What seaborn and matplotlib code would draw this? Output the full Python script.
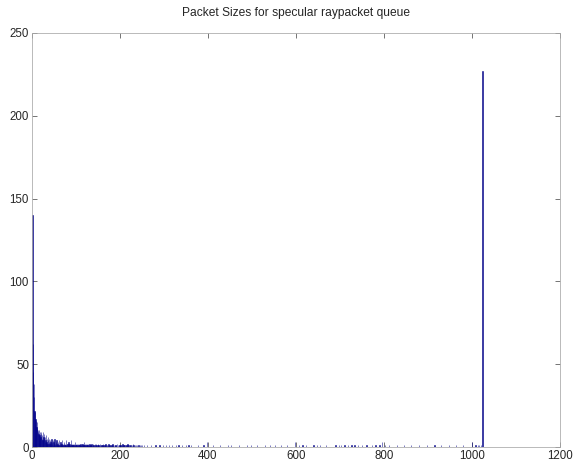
import numpy as np
import pandas as pd
import matplotlib
matplotlib.use("Agg")
import matplotlib.pyplot as plt
import seaborn as sns

# Counts for packet sizes 1..60
head_sizes = list(range(1, 61))
head_counts = [140, 62, 45, 38, 30, 22, 21, 17, 16, 12, 11, 15, 9, 10, 8, 10, 7, 9, 6, 8,
               9, 5, 7, 4, 9, 6, 5, 8, 3, 6, 4, 7, 3, 5, 2, 6, 4, 3, 5, 2,
               4, 3, 2, 5, 3, 2, 4, 1, 3, 2, 5, 2, 1, 3, 2, 4, 1, 2, 3, 1]

# Counts for packet sizes 61..250
mid_sizes = list(range(61, 251))
mid_counts = [4, 1, 2, 1, 3, 1, 2, 4, 1, 2, 1, 3, 2, 1, 2, 1, 4, 1, 2, 1,
              2, 1, 3, 1, 2, 1, 1, 2, 4, 1, 2, 1, 2, 1, 1, 2, 1, 3, 1, 2,
              1, 2, 1, 1, 2, 1, 2, 1, 1, 2, 1, 1, 2, 1, 2, 1, 1, 3, 1, 2,
              1, 2, 1, 1, 2, 1, 1, 2, 1, 1, 2, 1, 1, 1, 2, 1, 0, 1, 2, 1,
              1, 0, 2, 1, 1, 2, 0, 1, 1, 2, 1, 0, 1, 1, 2, 0, 1, 1, 0, 1,
              2, 1, 0, 1, 1, 0, 2, 1, 0, 1, 1, 0, 1, 2, 0, 1, 0, 1, 1, 0,
              1, 0, 2, 1, 0, 1, 0, 1, 0, 1, 1, 0, 2, 0, 1, 0, 1, 0, 1, 0,
              1, 1, 0, 1, 0, 2, 0, 1, 0, 1, 0, 0, 1, 0, 1, 0, 2, 0, 1, 0,
              0, 1, 0, 1, 0, 0, 1, 0, 2, 0, 1, 0, 0, 1, 0, 1, 0, 0, 1, 0,
              0, 1, 0, 0, 1, 0, 1, 0, 0, 1]

# Sparse tail: packet sizes with a non-zero count above 250
tail_sizes = [255, 262, 270, 281, 290, 298, 305, 312, 318, 327, 333, 341, 350, 356, 362,
              377, 390, 398, 412, 428, 445, 452, 470, 489, 498, 512, 530, 541, 552, 566,
              580, 598, 607, 615, 622, 640, 648, 655, 668, 690, 698, 702, 710, 718, 726,
              733, 741, 750, 760, 772, 781, 790, 795, 802, 811, 830, 845, 862, 880, 897,
              915, 930, 948, 963, 980, 1000, 1008, 1013, 1016, 1020, 1024]
tail_counts = [1, 1, 1, 1, 1, 1, 1, 1, 1, 1, 1, 1, 1, 1, 1,
               1, 1, 3, 1, 1, 1, 1, 1, 1, 1, 1, 1, 1, 1, 1,
               1, 3, 1, 1, 1, 1, 1, 1, 1, 1, 1, 1, 1, 1, 1,
               1, 1, 1, 1, 1, 1, 1, 3, 1, 1, 1, 1, 1, 1, 1,
               1, 1, 1, 1, 1, 3, 1, 1, 1, 1, 227]

title = "Packet Sizes for specular raypacket queue"
xticks = [0, 200, 400, 600, 800, 1000, 1200]
yticks = [0, 50, 100, 150, 200, 250]

df = pd.DataFrame({
    "size": head_sizes + mid_sizes + tail_sizes,
    "count": head_counts + mid_counts + tail_counts,
})
df = df[df["count"] > 0]

sns.set_style("white")
plt.rcParams["font.family"] = ["Liberation Sans", "DejaVu Sans"]

fig = plt.figure(figsize=(8.0, 467 / 72), dpi=72)
ax = fig.add_axes([32 / 576, 1 - 447 / 467, 528 / 576, 414 / 467])

sns.histplot(data=df, x="size", weights="count", discrete=True, shrink=0.8,
             color="#000080", alpha=1.0, edgecolor="#00008b", linewidth=0.5, ax=ax)

ax.set_xlim(0, 1200)
ax.set_ylim(0, 250)
ax.set_xticks(xticks)
ax.set_yticks(yticks)
ax.set_xlabel("")
ax.set_ylabel("")
ax.set_title(title, fontsize=12, pad=17)
ax.tick_params(direction="in", length=5, width=0.8, color="#555555",
               labelsize=11.5, top=True, right=True, bottom=True, left=True, pad=3)
for s in ax.spines.values():
    s.set_visible(True)
    s.set_color("#aaaaaa")
    s.set_linewidth(0.8)

fig.savefig("out.png", dpi=72)
